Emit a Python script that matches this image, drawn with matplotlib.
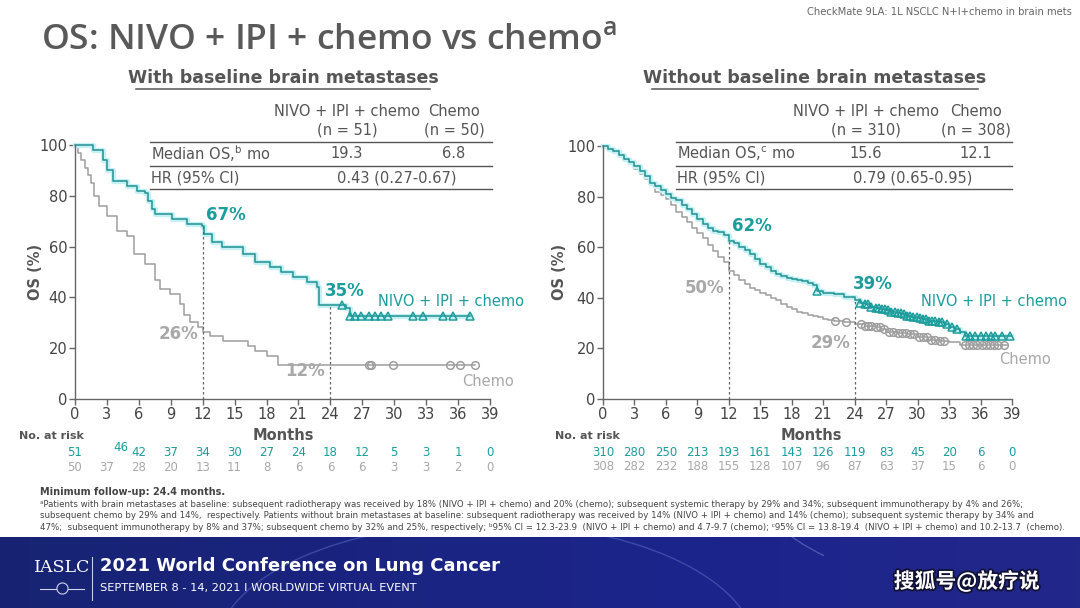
import numpy as np
import matplotlib.pyplot as plt
import matplotlib.patheffects as pe
from matplotlib.lines import Line2D
from matplotlib.patches import Arc
from matplotlib.colors import LinearSegmentedColormap

# ---- data ----
month_ticks = list(range(0, 40, 3))
os_ticks = [0, 20, 40, 60, 80, 100]

# with baseline brain metastases
bm_nivo_t = [0, 1.7, 2.6, 3.0, 3.6, 4.9, 5.8, 6.6, 6.9, 7.2, 7.5, 9.1, 10.5, 11.9, 12.1,
             12.9, 13.8, 15.8, 16.9, 18.3, 19.4, 20.5, 21.8, 22.7, 22.9, 25.5, 25.8, 37.1]
bm_nivo_s = [100, 98, 94, 90, 86, 84, 82, 81, 78, 75, 73, 71, 69, 68, 65,
             62, 60, 57, 54, 52, 50, 48, 46, 44, 37, 36, 32.5, 32.5]
bm_nivo_cens = [25.1, 25.8, 26.3, 26.9, 27.6, 28.2, 28.8, 29.4, 31.8, 32.7, 34.6, 35.5, 37.1]
bm_chemo_t = [0, 0.3, 0.6, 0.9, 1.2, 1.5, 1.8, 2.3, 3.0, 3.9, 4.9, 5.5, 6.6, 7.5, 8.0, 8.9,
              9.9, 10.2, 10.8, 11.6, 12.0, 12.7, 13.9, 16.3, 16.9, 18.0, 19.1, 37.6]
bm_chemo_s = [100, 97, 94, 91, 88, 85, 80, 76, 72, 66, 64, 57, 53, 47, 43.5, 41.5,
              37.5, 33, 30.5, 28.5, 26.5, 25, 23, 21, 19, 17, 13.5, 13.5]
bm_chemo_cens = [27.6, 27.8, 29.9, 35.2, 36.2, 37.6]
bm_risk_nivo = [51, 46, 42, 37, 34, 30, 27, 24, 18, 12, 5, 3, 1, 0]
bm_risk_chemo = [50, 37, 28, 20, 13, 11, 8, 6, 6, 6, 3, 3, 2, 0]

# without baseline brain metastases
nbm_nivo_t = [0, 0.5, 1.0, 1.5, 2.0, 2.5, 3.0, 3.5, 4.0, 4.5, 5.0, 5.5, 6.0, 6.5, 7.0, 7.5,
              8.0, 8.5, 9.0, 9.5, 10.0, 10.5, 11.0, 11.5, 12.0, 12.5, 13.0, 13.5, 14.0,
              14.5, 15.0, 15.5, 16.0, 16.5, 17.0, 17.5, 18.0, 18.5, 19.0, 19.5, 20.0, 20.4,
              21.0, 22.0, 23.0, 24.0, 24.5, 25.0, 25.5, 26.0, 26.5, 27.0, 27.5, 28.0, 28.5,
              29.0, 29.5, 30.0, 30.5, 31.0, 32.0, 32.5, 33.0, 33.5, 34.0, 34.5, 38.9]
nbm_nivo_s = [100, 99, 98, 96.5, 95, 93.5, 92, 90, 88, 85.5, 84, 82.5, 81, 79.5, 78.5, 76.5,
              75, 73, 71, 69, 67.5, 66.5, 66, 65, 62.5, 61.5, 60, 59, 57.5,
              55.5, 53.5, 52, 50.5, 49.5, 48.5, 48, 47.5, 47, 46.5, 46, 45, 42.5,
              42, 41.5, 40.5, 39, 38, 37.5, 36.5, 36, 35.5, 35, 34.5, 34, 33.5,
              33, 32.5, 32, 31.5, 31, 30.5, 29.5, 28.5, 27.5, 26.5, 25, 25]
nbm_nivo_cens = [20.4, 24.5, 25.0, 25.3, 25.6, 26.0, 26.3, 26.6, 26.9, 27.2, 27.5, 27.8, 28.1,
                 28.4, 28.7, 29.0, 29.3, 29.6, 29.9, 30.2, 30.5, 30.8, 31.1, 31.4, 31.7,
                 32.0, 32.3, 32.8, 33.3, 33.8, 34.6, 35.0, 35.5, 36.0, 36.5, 37.0, 37.4,
                 38.0, 38.8]
nbm_chemo_t = [0, 0.5, 1, 1.5, 2, 2.5, 3, 3.5, 4, 4.5, 5, 5.5, 6, 6.5, 7, 7.5, 8, 8.5, 9,
               9.5, 10, 10.5, 11, 11.5, 12, 12.5, 13, 13.5, 14, 14.5, 15, 15.5, 16, 16.5,
               17, 17.5, 18, 18.5, 19, 19.5, 20, 20.5, 21, 21.5, 22, 23, 24, 25, 26, 26.5,
               27, 28, 29, 30, 31, 32, 33, 34, 38.5]
nbm_chemo_s = [100, 99, 97.5, 96, 94.5, 93, 91, 89, 87, 84.5, 82, 80.5, 79, 76.5, 74, 72,
               70, 67.5, 65.5, 63.5, 61, 58.5, 56, 54, 50.5, 49, 47, 45.5, 44, 43, 42, 41,
               40, 39, 37.5, 36.5, 35.5, 34.5, 33.8, 33.2, 32.8, 32.3, 31.8, 31.3, 30.8,
               30.3, 29.5, 29, 28.5, 27.5, 26.5, 26, 25.5, 24.5, 23.5, 23, 22.5, 21.5, 21.5]
nbm_chemo_cens = [22.1, 23.2, 24.6, 25.0, 25.3, 25.6, 26.0, 26.4, 26.8, 27.3, 27.7, 28.1,
                  28.5, 28.9, 29.3, 29.7, 30.1, 30.5, 30.9, 31.3, 31.7, 32.1, 32.5, 34.5,
                  34.9, 35.3, 35.7, 36.1, 36.5, 36.9, 37.3, 37.7, 38.2]
nbm_risk_nivo = [310, 280, 250, 213, 193, 161, 143, 126, 119, 83, 45, 20, 6, 0]
nbm_risk_chemo = [308, 282, 232, 188, 155, 128, 107, 96, 87, 63, 37, 15, 6, 0]

TEAL = '#1c9d9c'
TEAL_LINE = '#22918f'
GREY = '#9e9e9e'
GREY_TXT = '#a8a8a8'
DARK = '#555555'

W, H = 1080, 608
fig = plt.figure(figsize=(W / 100, H / 100), dpi=100)
fig.patch.set_facecolor('white')


def px(x, y):
    return x / W, 1 - y / H


def ftext(x, y, s, **kw):
    fx, fy = px(x, y)
    return fig.text(fx, fy, s, **kw)


def hline(x0, x1, y, color=DARK, lw=1.0):
    a, b = px(x0, y)
    c, _ = px(x1, y)
    fig.add_artist(Line2D([a, c], [b, b], color=color, lw=lw))


def surv_at(t, times, surv):
    idx = np.searchsorted(times, t, side='right') - 1
    return np.asarray(surv)[idx]


glow = [pe.Stroke(linewidth=3.8, foreground='#c4f1f5'), pe.Normal()]


def km_panel(rect, nivo_t, nivo_s, nivo_cens, chemo_t, chemo_s, chemo_cens):
    ax = fig.add_axes(rect)
    ax.step(chemo_t, chemo_s, where='post', color=GREY, lw=1.1, clip_on=False)
    ax.plot(chemo_cens, surv_at(chemo_cens, chemo_t, chemo_s), 'o', ms=5.5,
            mfc='none', mec=GREY, mew=1.1, clip_on=False)
    ax.step(nivo_t, nivo_s, where='post', color=TEAL_LINE, lw=1.1, clip_on=False,
            path_effects=glow)
    ax.plot(nivo_cens, surv_at(nivo_cens, nivo_t, nivo_s), '^', ms=5.5,
            mfc='none', mec=TEAL, mew=1.1, clip_on=False)
    ax.set_xlim(0, 39)
    ax.set_ylim(0, 100)
    ax.set_xticks(month_ticks)
    ax.set_yticks(os_ticks)
    for s in ['top', 'right']:
        ax.spines[s].set_visible(False)
    for s in ['left', 'bottom']:
        ax.spines[s].set_color('#666666')
        ax.spines[s].set_linewidth(1.0)
    ax.tick_params(colors='#666666', labelcolor='#444444', labelsize=10.5,
                   length=4, width=1.0, pad=1.5)
    ax.set_facecolor('none')
    return ax


# ---- left panel ----
axL = km_panel([75 / W, 1 - 399 / H, 415 / W, 254 / H],
               bm_nivo_t, bm_nivo_s, bm_nivo_cens, bm_chemo_t, bm_chemo_s, bm_chemo_cens)
axL.plot([12, 12], [0, surv_at(12, bm_nivo_t, bm_nivo_s)], ls=(0, (2, 2)), color='#666666', lw=0.9)
axL.plot([24, 24], [0, surv_at(24, bm_nivo_t, bm_nivo_s)], ls=(0, (2, 2)), color='#666666', lw=0.9)
axL.text(12.3, 69, '67%', color=TEAL, fontsize=12, fontweight='bold', va='bottom')
axL.text(23.5, 39, '35%', color=TEAL, fontsize=12, fontweight='bold', va='bottom')
axL.text(11.6, 22, '26%', color=GREY_TXT, fontsize=12, fontweight='bold', ha='right', va='bottom')
axL.text(23.5, 7.5, '12%', color=GREY_TXT, fontsize=12, fontweight='bold', ha='right', va='bottom')
axL.text(35.3, 38.5, 'NIVO + IPI + chemo', color=TEAL, fontsize=10.5, ha='center', va='center')
axL.text(38.8, 7, 'Chemo', color=GREY_TXT, fontsize=10.5, ha='center', va='center')

# ---- right panel ----
axR = km_panel([603 / W, 1 - 399 / H, 409 / W, 253 / H],
               nbm_nivo_t, nbm_nivo_s, nbm_nivo_cens, nbm_chemo_t, nbm_chemo_s, nbm_chemo_cens)
axR.plot([12, 12], [0, surv_at(12, nbm_nivo_t, nbm_nivo_s)], ls=(0, (2, 2)), color='#666666', lw=0.9)
axR.plot([24, 24], [0, surv_at(24, nbm_nivo_t, nbm_nivo_s)], ls=(0, (2, 2)), color='#666666', lw=0.9)
axR.text(12.3, 65, '62%', color=TEAL, fontsize=12, fontweight='bold', va='bottom')
axR.text(23.8, 42, '39%', color=TEAL, fontsize=12, fontweight='bold', va='bottom')
axR.text(11.6, 40.5, '50%', color=GREY_TXT, fontsize=12, fontweight='bold', ha='right', va='bottom')
axR.text(23.6, 18.5, '29%', color=GREY_TXT, fontsize=12, fontweight='bold', ha='right', va='bottom')
axR.text(37.3, 38.5, 'NIVO + IPI + chemo', color=TEAL, fontsize=10.5, ha='center', va='center')
axR.text(40.2, 15.5, 'Chemo', color=GREY_TXT, fontsize=10.5, ha='center', va='center')

for lab_x in [35, 560]:
    ftext(lab_x, 272, 'OS (%)', rotation=90, ha='center', va='center', color=DARK,
          fontsize=10.5, fontweight='bold')

ftext(283, 436, 'Months', ha='center', va='center', color=DARK, fontsize=10.5, fontweight='bold')
ftext(811, 436, 'Months', ha='center', va='center', color=DARK, fontsize=10.5, fontweight='bold')

# ---- numbers at risk ----
ftext(19, 436, 'No. at risk', ha='left', va='center', color=DARK, fontsize=8, fontweight='bold')
ftext(555, 436, 'No. at risk', ha='left', va='center', color=DARK, fontsize=8, fontweight='bold')
for ax, rn, rc in [(axL, bm_risk_nivo, bm_risk_chemo), (axR, nbm_risk_nivo, nbm_risk_chemo)]:
    tr = ax.get_xaxis_transform()
    for m, a, b in zip(month_ticks, rn, rc):
        if ax is axL and m == 3:
            ax.text(4.3, -0.19, str(a), transform=tr, ha='center', va='center',
                    color=TEAL, fontsize=8.5)
        else:
            ax.text(m, -0.21, str(a), transform=tr, ha='center', va='center',
                    color=TEAL, fontsize=8.5)
        ax.text(m, -0.268, str(b), transform=tr, ha='center', va='center',
                color=GREY_TXT, fontsize=8.5)

# ---- summary tables ----
for x0, x1, cn, cc, n1, n2, med_lab, med1, med2, hr, hr_x in [
        (150, 492, 347, 454, '51', '50', 'b', '19.3', '6.8', '0.43 (0.27-0.67)', 397),
        (676, 1012, 866, 976, '310', '308', 'c', '15.6', '12.1', '0.79 (0.65-0.95)', 913)]:
    ftext(cn, 111, 'NIVO + IPI + chemo', ha='center', va='center', color=DARK, fontsize=10.5)
    ftext(cn, 130, '(n = %s)' % n1, ha='center', va='center', color=DARK, fontsize=10.5)
    ftext(cc, 111, 'Chemo', ha='center', va='center', color=DARK, fontsize=10.5)
    ftext(cc, 130, '(n = %s)' % n2, ha='center', va='center', color=DARK, fontsize=10.5)
    hline(x0, x1, 142)
    ftext(x0 + 1, 154, r'Median OS,$^{\mathregular{%s}}$ mo' % med_lab, ha='left', va='center',
          color=DARK, fontsize=10.5)
    ftext(cn, 154, med1, ha='center', va='center', color=DARK, fontsize=10.5)
    ftext(cc, 154, med2, ha='center', va='center', color=DARK, fontsize=10.5)
    hline(x0, x1, 166)
    ftext(x0 + 1, 178, 'HR (95% CI)', ha='left', va='center', color=DARK, fontsize=10.5)
    ftext(hr_x, 178, hr, ha='center', va='center', color=DARK, fontsize=10.5)
    hline(x0, x1, 189)

# ---- titles ----
ftext(41, 40, r'OS: NIVO + IPI + chemo vs chemo$^{\mathregular{a}}$', ha='left', va='center',
      color='#595959', fontsize=25.5, family=['Open Sans', 'DejaVu Sans'], fontweight='semibold')
ftext(1072, 12, 'CheckMate 9LA: 1L NSCLC N+I+chemo in brain mets', ha='right', va='center',
      color='#666666', fontsize=7.2)
ftext(283, 78, 'With baseline brain metastases', ha='center', va='center', color=DARK,
      fontsize=12.5, fontweight='bold')
hline(136, 430, 89, color=DARK, lw=1.1)
ftext(815, 78, 'Without baseline brain metastases', ha='center', va='center', color=DARK,
      fontsize=12.5, fontweight='bold')
hline(652, 978, 89, color=DARK, lw=1.1)

# ---- footnotes ----
foot_lines = [
    'ᵃPatients with brain metastases at baseline: subsequent radiotherapy was received by 18% '
    '(NIVO + IPI + chemo) and 20% (chemo); subsequent systemic therapy by 29% and 34%; '
    'subsequent immunotherapy by 4% and 26%;',
    'subsequent chemo by 29% and 14%,  respectively. Patients without brain metastases at baseline: '
    'subsequent radiotherapy was received by 14% (NIVO + IPI + chemo) and 14% (chemo); '
    'subsequent systemic therapy by 34% and',
    '47%;  subsequent immunotherapy by 8% and 37%; subsequent chemo by 32% and 25%, respectively; '
    'ᵇ95% CI = 12.3-23.9  (NIVO + IPI + chemo) and 4.7-9.7 (chemo); '
    'ᶜ95% CI = 13.8-19.4  (NIVO + IPI + chemo) and 10.2-13.7  (chemo).',
]
ftext(40, 492, 'Minimum follow-up: 24.4 months.', ha='left', va='center', color='#444444',
      fontsize=7, fontweight='bold')
foot_txts = [ftext(40, 504.5 + i * 11.3, line, ha='left', va='center', color='#444444',
                   fontsize=6.6) for i, line in enumerate(foot_lines)]
# shrink the footnote so the longest line ends near the right edge, as on the slide
renderer = fig.canvas.get_renderer()
widest = max(t.get_window_extent(renderer).width for t in foot_txts)
for t in foot_txts:
    t.set_fontsize(6.6 * 1030 / widest)

# ---- conference banner ----
bax = fig.add_axes([0, 0, 1, 71 / H])
grad = np.linspace(0, 1, 256).reshape(1, -1)
cmap = LinearSegmentedColormap.from_list('banner', ['#172372', '#1a2480', '#1c248c', '#22278a'])
bax.imshow(grad, aspect='auto', cmap=cmap, extent=[0, 1, 0, 1])
bax.add_patch(Arc((0.45, -0.6), 0.5, 3.6, theta1=20, theta2=160, color='#6f86d6', lw=1.0, alpha=0.4))
bax.add_patch(Arc((0.95, 1.8), 0.5, 3.2, theta1=200, theta2=260, color='#8fa3e8', lw=1.0, alpha=0.4))
bax.set_xlim(0, 1)
bax.set_ylim(0, 1)
bax.axis('off')

ftext(62, 568, 'IASLC', ha='center', va='center', color='white', fontsize=12.5,
      family='DejaVu Serif')
hline(40, 84, 589, color='#d0d4f0', lw=0.8)
cx, cy = px(62, 588)
fig.add_artist(Line2D([cx], [cy], marker='o', ms=8, mfc='#172372', mec='#d0d4f0', mew=0.8))
vx, vy0 = px(92, 557)
_, vy1 = px(92, 600)
fig.add_artist(Line2D([vx, vx], [vy0, vy1], color='#c8cce8', lw=0.8))
ftext(100, 566, '2021 World Conference on Lung Cancer', ha='left', va='center', color='white',
      fontsize=13, fontweight='bold')
ftext(100, 588, 'SEPTEMBER 8 - 14, 2021 I WORLDWIDE VIRTUAL EVENT', ha='left', va='center',
      color='white', fontsize=8.2)
ftext(1040, 581, '搜狐号@放疗说', ha='right', va='center', color='white', fontsize=15,
      family=['Noto Sans CJK SC', 'DejaVu Sans'], fontweight='bold',
      path_effects=[pe.withStroke(linewidth=2.5, foreground='#111133')])

fig.savefig('out.png', dpi=100, facecolor='white')
